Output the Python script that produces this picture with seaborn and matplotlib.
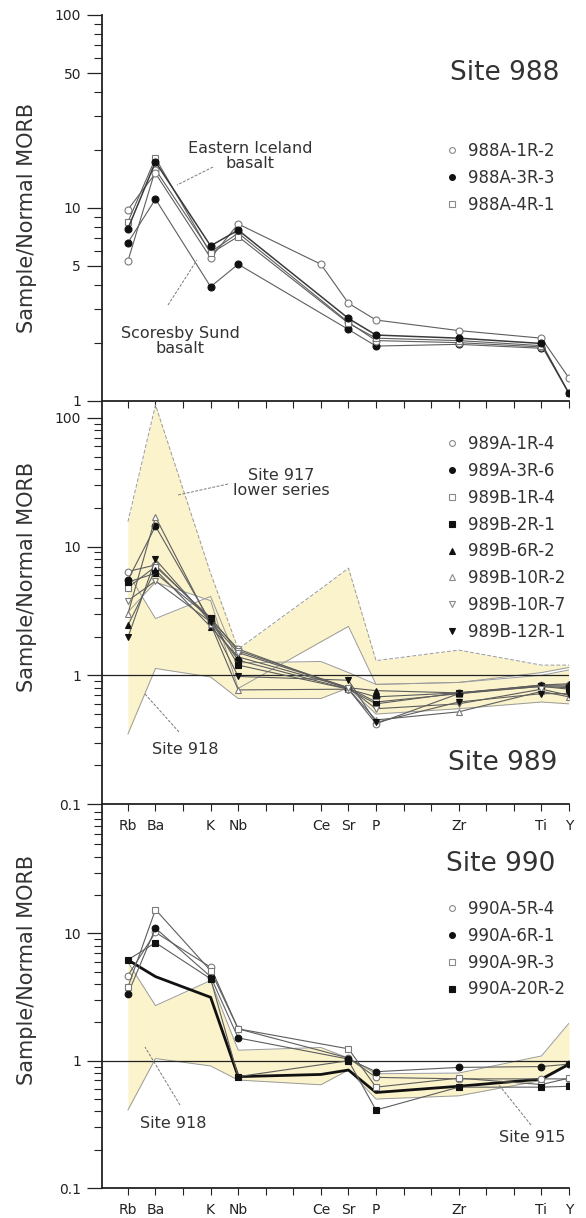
import numpy as np
import matplotlib
matplotlib.use("Agg")
import matplotlib.pyplot as plt
import seaborn as sns
from matplotlib.lines import Line2D
from matplotlib.ticker import FixedLocator, FixedFormatter, NullFormatter

# ---------------- data ----------------
elements = ["Rb", "Ba", "K", "Nb", "Ce", "Sr", "P", "Zr", "Ti", "Y"]
positions = [0, 1, 3, 4, 7, 8, 9, 12, 15, 16]
nan = np.nan

# Site 988
s988A_1R_2 = [9.8, 15.1, 5.5, 8.25, 5.1, 3.2, 2.62, 2.31, 2.11, 1.31]
s988A_3R_3 = [7.8, 17.3, 6.35, 7.67, nan, 2.67, 2.19, 2.11, 1.98, 1.09]
s988A_4R_1 = [8.45, 18.1, 5.8, 7.1, nan, 2.52, 2.11, 2.05, 1.93, 1.09]
eastern_iceland = [5.3, 15.8, 5.9, 7.4, nan, 2.55, 2.05, 2.0, 1.9, nan]
scoresby_sund = [6.6, 11.1, 3.9, 5.1, nan, 2.34, 1.92, 1.96, 1.87, nan]

# Site 989
s989A_1R_4 = [6.4, 7.2, 2.7, 1.6, nan, 0.78, 0.42, 0.72, 0.84, 0.84]
s989A_3R_6 = [5.5, 14.4, 2.6, 1.31, nan, 0.78, 0.68, 0.73, 0.83, 0.82]
s989B_1R_4 = [4.8, 7.0, 2.8, 1.55, nan, 0.8, 0.62, 0.72, 0.82, 0.78]
s989B_2R_1 = [5.3, 6.2, 2.78, 1.2, nan, 0.78, 0.6, 0.73, 0.82, 0.8]
s989B_6R_2 = [2.45, 6.6, 2.38, 1.39, nan, 0.8, 0.76, 0.73, 0.84, 0.86]
s989B_10R_2 = [3.0, 17.0, 2.5, 0.77, nan, 0.78, 0.45, 0.52, 0.75, 0.68]
s989B_10R_7 = [3.8, 5.4, 2.6, 1.5, nan, 0.8, 0.55, 0.6, 0.78, 0.7]
s989B_12R_1 = [1.97, 7.95, 2.6, 0.98, nan, 0.915, 0.43, 0.62, 0.72, 0.72]

site917_upper = [15.6, 126, 6.2, 1.6, 4.7, 6.8, 1.3, 1.57, 1.2, 1.2]
site917_lower = [3.1, 5.3, 3.8, 0.79, 1.82, 2.4, 0.85, 0.88, 1.05, 1.15]
site918_upper = [6.2, 2.76, 4.1, 1.25, 1.28, 1.05, 0.85, 0.88, 1.0, 1.1]
site918_lower = [0.35, 1.13, 0.97, 0.66, 0.66, 0.8, 0.5, 0.55, 0.62, 0.6]

# Site 990
s990A_5R_4 = [4.67, 10.2, 5.43, 1.78, nan, 1.05, 0.74, 0.72, 0.72, 0.72]
s990A_6R_1 = [3.35, 11.0, 4.58, 1.51, nan, 1.03, 0.82, 0.886, 0.9, 0.94]
s990A_9R_3 = [3.78, 15.4, 5.1, 1.78, nan, 1.24, 0.62, 0.73, 0.65, 0.73]
s990A_20R_2 = [6.2, 8.46, 4.4, 0.75, nan, 1.0, 0.41, 0.62, 0.62, 0.63]
site915_line = [6.2, 4.58, 3.15, 0.75, 0.78, 0.845, 0.563, 0.63, 0.717, 0.94]
band990_upper = [5.95, 2.71, 4.27, 1.21, 1.27, 1.05, 0.79, 0.8, 1.09, 1.97]
band990_lower = [0.41, 1.04, 0.91, 0.705, 0.647, 0.845, 0.5, 0.53, 0.7, 0.92]

# ---------------- style ----------------
sns.set_style("ticks")
plt.rcParams["font.family"] = ["DejaVu Sans"]
LINE = "#5e5e5e"
FILL = "#faf3cc"
EDGE = "#9a9a9a"
TXT = "#333333"

W, H = 586, 1218
fig = plt.figure(figsize=(W / 100, H / 100), dpi=100)


def fx(px):
    return px / W


def fy(py):
    return 1 - py / H


X_L, X_R = 102, 569
ax_top = fig.add_axes([fx(X_L), fy(400.7), (X_R - X_L) / W, (400.7 - 15) / H])
ax_mid = fig.add_axes([fx(X_L), fy(804), (X_R - X_L) / W, (804 - 400.7) / H])
ax_bot = fig.add_axes([fx(X_L), fy(1188), (X_R - X_L) / W, (1188 - 804) / H])

dec = [2, 3, 4, 5, 6, 7, 8, 9]


def style_axis(ax, ylim, major, labels, minor, xlabels):
    ax.patch.set_visible(False)
    ax.set_yscale("log")
    ax.set_ylim(*ylim)
    ax.set_xlim(-0.94, 16)
    ax.yaxis.set_major_locator(FixedLocator(major))
    ax.yaxis.set_major_formatter(FixedFormatter(labels))
    ax.yaxis.set_minor_locator(FixedLocator(minor))
    ax.yaxis.set_minor_formatter(NullFormatter())
    for s in ["top", "right"]:
        ax.spines[s].set_visible(False)
    for s in ["left", "bottom"]:
        ax.spines[s].set_linewidth(1.3)
        ax.spines[s].set_color("#222222")
    ax.tick_params(axis="y", which="major", length=11, width=0.9, direction="out",
                   labelsize=10, pad=4, colors="#222222")
    ax.tick_params(axis="y", which="minor", length=5.5, width=0.8, direction="out",
                   colors="#222222")
    ax.set_xticks(range(17))
    lab = [""] * 17
    if xlabels:
        for e, p in zip(elements, positions):
            lab[p] = e
    ax.set_xticklabels(lab)
    ax.tick_params(axis="x", which="major", length=4.8, width=0.8, direction="out",
                   labelsize=10, pad=6, colors="#222222")
    ax.set_xlabel("")
    ax.set_ylabel("")


def draw_series(ax, vals, marker, filled, ms=5.0, lw=0.8, color=LINE):
    x = [p for p, v in zip(positions, vals) if not np.isnan(v)]
    y = [v for v in vals if not np.isnan(v)]
    sns.lineplot(x=x, y=y, ax=ax, color=color, linewidth=lw, sort=False,
                 legend=False, errorbar=None, marker=marker, markersize=ms,
                 markerfacecolor="#111111" if filled else "white",
                 markeredgecolor="#111111" if filled else "#7a7a7a",
                 markeredgewidth=0.8, zorder=3)


def draw_band(ax, lower, upper, dashed_upper=False, dashed_lower=False):
    ax.fill_between(positions, lower, upper, color=FILL, lw=0, zorder=1)
    sns.lineplot(x=positions, y=upper, ax=ax, color=EDGE, linewidth=0.7, sort=False,
                 legend=False, errorbar=None, zorder=2,
                 linestyle=(0, (4, 2)) if dashed_upper else "-")
    sns.lineplot(x=positions, y=lower, ax=ax, color=EDGE, linewidth=0.7, sort=False,
                 legend=False, errorbar=None, zorder=2,
                 linestyle=(0, (4, 2)) if dashed_lower else "-")


def add_legend(ax, entries, top_px):
    handles = []
    for lab, mk, filled in entries:
        handles.append(Line2D([], [], linestyle="none", marker=mk, markersize=4.2,
                              markerfacecolor="#111111" if filled else "white",
                              markeredgecolor="#111111" if filled else "#8a8a8a",
                              markeredgewidth=0.8, label=lab))
    leg = ax.legend(handles=handles, loc="upper left",
                    bbox_to_anchor=(fx(444), fy(top_px)), bbox_transform=fig.transFigure,
                    frameon=False, fontsize=12, handlelength=1.0, handletextpad=0.45,
                    labelspacing=0.53, borderpad=0, borderaxespad=0)
    for t in leg.get_texts():
        t.set_color(TXT)


def leader(p1, p2):
    fig.add_artist(Line2D([fx(p1[0]), fx(p2[0])], [fy(p1[1]), fy(p2[1])],
                          transform=fig.transFigure, color="#7a7a7a", lw=0.7,
                          linestyle=(0, (3, 1.5))))


def label(x, y, s, size=11.5):
    fig.text(fx(x), fy(y), s, ha="center", va="center", fontsize=size, color=TXT,
             linespacing=1.05)


# ---------------- top panel: Site 988 ----------------
style_axis(ax_top, (1, 100), [1, 5, 10, 50, 100], ["1", "5", "10", "50", "100"],
           [2, 3, 4, 6, 7, 8, 9, 20, 30, 40, 60, 70, 80, 90], False)
draw_series(ax_top, scoresby_sund, "o", True)
draw_series(ax_top, eastern_iceland, "o", False)
draw_series(ax_top, s988A_1R_2, "o", False)
draw_series(ax_top, s988A_4R_1, "s", False, ms=4.6)
draw_series(ax_top, s988A_3R_3, "o", True, lw=1.1, color="#3a3a3a")
add_legend(ax_top, [("988A-1R-2", "o", False), ("988A-3R-3", "o", True),
                    ("988A-4R-1", "s", False)], 142)
label(505, 73, "Site 988", 19)
label(250, 156, "Eastern Iceland\nbasalt")
leader((213, 167), (177, 185))
label(180, 341, "Scoresby Sund\nbasalt")
leader((168, 305), (197, 260))

# ---------------- middle panel: Site 989 ----------------
style_axis(ax_mid, (0.1, 136), [0.1, 1, 10, 100], ["0.1", "1", "10", "100"],
           [d / 10 for d in dec] + dec + [d * 10 for d in dec], True)
draw_band(ax_mid, site917_lower, site917_upper, dashed_upper=True)
draw_band(ax_mid, site918_lower, site918_upper)
ax_mid.axhline(1, color="#222222", lw=0.9, zorder=2.5)
mid_series = [
    ("989A-1R-4", s989A_1R_4, "o", False),
    ("989A-3R-6", s989A_3R_6, "o", True),
    ("989B-1R-4", s989B_1R_4, "s", False),
    ("989B-2R-1", s989B_2R_1, "s", True),
    ("989B-6R-2", s989B_6R_2, "^", True),
    ("989B-10R-2", s989B_10R_2, "^", False),
    ("989B-10R-7", s989B_10R_7, "v", False),
    ("989B-12R-1", s989B_12R_1, "v", True),
]
for lab, vals, mk, filled in mid_series:
    draw_series(ax_mid, vals, mk, filled, ms=4.8)
add_legend(ax_mid, [(l, m, f) for l, _, m, f in mid_series], 435)
label(503, 763, "Site 989", 19)
label(281, 483, "Site 917\nlower series")
leader((228, 484), (178, 495))
label(185, 750, "Site 918")
leader((179, 732), (145, 694))

# ---------------- bottom panel: Site 990 ----------------
style_axis(ax_bot, (0.1, 104), [0.1, 1, 10], ["0.1", "1", "10"],
           [d / 10 for d in dec] + dec + [d * 10 for d in dec], True)
draw_band(ax_bot, band990_lower, band990_upper)
ax_bot.axhline(1, color="#222222", lw=0.9, zorder=2.5)
bot_series = [
    ("990A-5R-4", s990A_5R_4, "o", False),
    ("990A-6R-1", s990A_6R_1, "o", True),
    ("990A-9R-3", s990A_9R_3, "s", False),
    ("990A-20R-2", s990A_20R_2, "s", True),
]
for lab, vals, mk, filled in bot_series:
    draw_series(ax_bot, vals, mk, filled, ms=4.8)
sns.lineplot(x=positions, y=site915_line, ax=ax_bot, color="#111111", linewidth=2.0,
             sort=False, legend=False, errorbar=None, zorder=2.8)
add_legend(ax_bot, [(l, m, f) for l, _, m, f in bot_series], 900)
label(501, 864, "Site 990", 19)
label(173, 1123, "Site 918")
leader((180, 1105), (145, 1047))
label(532, 1138, "Site 915")
leader((531, 1125), (499, 1085))

# y labels
for yc in (218, 577, 970):
    fig.text(fx(27), fy(yc), "Sample/Normal MORB", rotation=90, ha="center",
             va="center", fontsize=15, color=TXT)

fig.savefig("out.png", dpi=100)
